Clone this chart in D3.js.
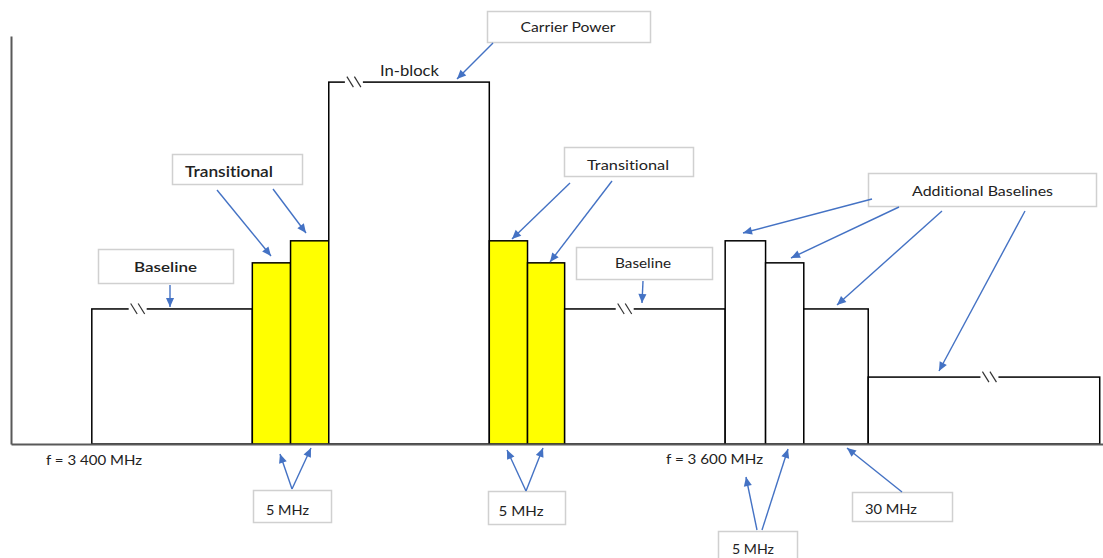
<!DOCTYPE html>
<html><head>
<meta charset="utf-8">
<title>Emission mask</title>
<script src="https://d3js.org/d3.v7.min.js"></script>
<style>
  body { margin: 0; background: #fff; }
  text { font-family: Lato, "Open Sans", sans-serif; fill: #222; font-variant-ligatures: none; font-feature-settings: "liga" 0, "clig" 0; }
  .axis path { stroke: #595959; stroke-width: 2; }
</style>
</head>
<body>
<svg id="chart" width="1103" height="558"></svg>
<script>

// Blocks of the mask: start/end in relative frequency units, level in relative power units
const blockNames = ["Baseline", "Transitional", "Transitional", "In-block", "Transitional", "Transitional",
                    "Baseline", "Additional", "Additional", "Additional", "Additional"];
const blockStart = [7.4, 22.1, 25.6, 29.1, 43.8, 47.3, 50.7, 65.4, 69.1, 72.6, 78.5];
const blockEnd   = [22.1, 25.6, 29.1, 43.8, 47.3, 50.7, 65.4, 69.1, 72.6, 78.5, 99.7];
const blockLevel = [33.1, 44.4, 49.8, 88.7, 49.8, 44.4, 33.1, 49.8, 44.4, 33.1, 16.4];

// where the "not to scale" breaks sit (block index, frequency unit)
const breakBlock = [0, 3, 6, 10];
const breakAt    = [11.6, 31.4, 56.2, 89.6];

// annotation texts
const calloutTexts = ["Carrier Power", "Transitional", "Baseline", "Transitional", "Baseline",
                      "Additional Baselines", "5 MHz", "5 MHz", "5 MHz", "30 MHz"];
const freqLabels = ["f = 3 400 MHz", "f = 3 600 MHz"];

let svg = d3.select("svg#chart");

const xScale = d3.scaleLinear().domain([0, 100]).range([11, 1103]);
const yScale = d3.scaleLinear().domain([0, 100]).range([444, 36]);

// arrow head
svg.append("defs").append("marker")
  .attr("id", "head")
  .attr("viewBox", "0 0 10 10")
  .attr("refX", 10).attr("refY", 5)
  .attr("markerUnits", "userSpaceOnUse")
  .attr("markerWidth", 10).attr("markerHeight", 9)
  .attr("orient", "auto")
  .append("path").attr("d", "M0,0.5 L10,5 L0,9.5 z").attr("fill", "#4472C4");

// 1. the blocks
let blocks = blockNames.map((n, i) => ({name: n, start: blockStart[i], end: blockEnd[i], level: blockLevel[i]}));

svg.append("g").selectAll("rect")
  .data(blocks)
  .join("rect")
  .attr("x", d => xScale(d.start))
  .attr("y", d => yScale(d.level))
  .attr("width", d => xScale(d.end) - xScale(d.start))
  .attr("height", d => yScale(0) - yScale(d.level))
  .attr("fill", d => d.name == "Transitional" ? "#FFFF00" : "#fff")
  .attr("stroke", "#000")
  .attr("stroke-width", 1.5);

// 2. break marks on top edges
let breaks = breakBlock.map((b, i) => ({x: xScale(breakAt[i]), y: yScale(blockLevel[b])}));
let bk = svg.append("g").selectAll("g").data(breaks).join("g")
  .attr("transform", d => "translate(" + d.x + "," + d.y + ")");
bk.append("rect").attr("x", -9).attr("y", -3).attr("width", 18).attr("height", 6).attr("fill", "#fff");
bk.append("line").attr("x1", -7).attr("y1", -5.5).attr("x2", -0.5).attr("y2", 5)
  .attr("stroke", "#333").attr("stroke-width", 1.2);
bk.append("line").attr("x1", 0.5).attr("y1", -5.5).attr("x2", 7).attr("y2", 5)
  .attr("stroke", "#333").attr("stroke-width", 1.2);

// 3. axes, drawn as plain domain lines
svg.append("g").attr("class", "axis")
  .attr("transform", "translate(0," + yScale(0) + ")")
  .call(d3.axisBottom(xScale).tickValues([]).tickSizeOuter(0));
svg.append("g").attr("class", "axis")
  .attr("transform", "translate(" + xScale(0) + ",0)")
  .call(d3.axisLeft(yScale).tickValues([]).tickSizeOuter(0));

// 4. callout boxes with arrows (box x,y,w,h; text centre, baseline, width; arrows from->to)
const calloutLayout = [
  {box: [487, 11, 163, 31],  tx: 568, ty: 31.5, tl: 95,  fs: 13, fw: 400, arrows: [[493, 43, 457, 79]]},
  {box: [172, 154, 130, 30], tx: 229, ty: 177,  tl: 88,  fs: 15, fw: 600, arrows: [[217, 190, 271, 256], [273, 189, 306, 233]]},
  {box: [98, 249, 135, 34],  tx: 165.5, ty: 272, tl: 63, fs: 14, fw: 600, arrows: [[170, 285, 170, 307]]},
  {box: [564, 147, 129, 29], tx: 628, ty: 169.5, tl: 82, fs: 14, fw: 400, arrows: [[570, 183, 512, 239], [612, 181, 550, 262]]},
  {box: [576, 247, 136, 32], tx: 643, ty: 268,  tl: 56,  fs: 13, fw: 400, arrows: [[643, 281, 642, 303]]},
  {box: [868, 173, 228, 33], tx: 982.5, ty: 195.5, tl: 141, fs: 13, fw: 400,
    arrows: [[872, 199, 743, 233], [899, 207, 791, 258], [942, 211, 837, 305], [1025, 211, 939, 371]]},
  {box: [253, 490, 78, 32],  tx: 287.5, ty: 515, tl: 43, fs: 13, fw: 400, arrows: [[292, 489, 280, 454], [292, 489, 311, 448]]},
  {box: [488, 491, 77, 33],  tx: 521, ty: 516,  tl: 45,  fs: 13, fw: 400, arrows: [[526, 491, 507, 450], [526, 491, 543, 448]]},
  {box: [718, 531, 79, 30],  tx: 753, ty: 554,  tl: 42,  fs: 13, fw: 400, arrows: [[757, 530, 746, 477], [762, 530, 788, 449]]},
  {box: [852, 492, 100, 29], tx: 891, ty: 514,  tl: 52,  fs: 13, fw: 400, arrows: [[902, 492, 847, 448]]}
];

let callouts = calloutTexts.map((t, i) => Object.assign({text: t}, calloutLayout[i]));

let cg = svg.append("g").selectAll("g").data(callouts).join("g");
cg.append("rect")
  .attr("x", d => d.box[0] + 0.5).attr("y", d => d.box[1] + 0.5)
  .attr("width", d => d.box[2]).attr("height", d => d.box[3])
  .attr("fill", "#fff").attr("stroke", "#d0d0d0").attr("stroke-width", 1.5);
cg.append("text")
  .attr("x", d => d.tx).attr("y", d => d.ty)
  .attr("text-anchor", "middle")
  .attr("font-size", d => d.fs).attr("font-weight", d => d.fw)
  .attr("textLength", d => d.tl).attr("lengthAdjust", "spacingAndGlyphs")
  .text(d => d.text);
cg.selectAll("line").data(d => d.arrows).join("line")
  .attr("x1", a => a[0]).attr("y1", a => a[1])
  .attr("x2", a => a[2]).attr("y2", a => a[3])
  .attr("stroke", "#4472C4").attr("stroke-width", 1.4)
  .attr("marker-end", "url(#head)");

// 5. loose labels
svg.append("text")
  .attr("x", 409.5).attr("y", 76)
  .attr("text-anchor", "middle").attr("font-size", 15)
  .attr("textLength", 59).attr("lengthAdjust", "spacingAndGlyphs")
  .text(blockNames[3]);

const freqPos = [[94, 465, 96], [714.5, 464, 97]];
svg.append("g").selectAll("text").data(freqLabels).join("text")
  .attr("x", (d, i) => freqPos[i][0]).attr("y", (d, i) => freqPos[i][1])
  .attr("text-anchor", "middle").attr("font-size", 13)
  .attr("textLength", (d, i) => freqPos[i][2]).attr("lengthAdjust", "spacingAndGlyphs")
  .text(d => d);

</script>
</body>
</html>
